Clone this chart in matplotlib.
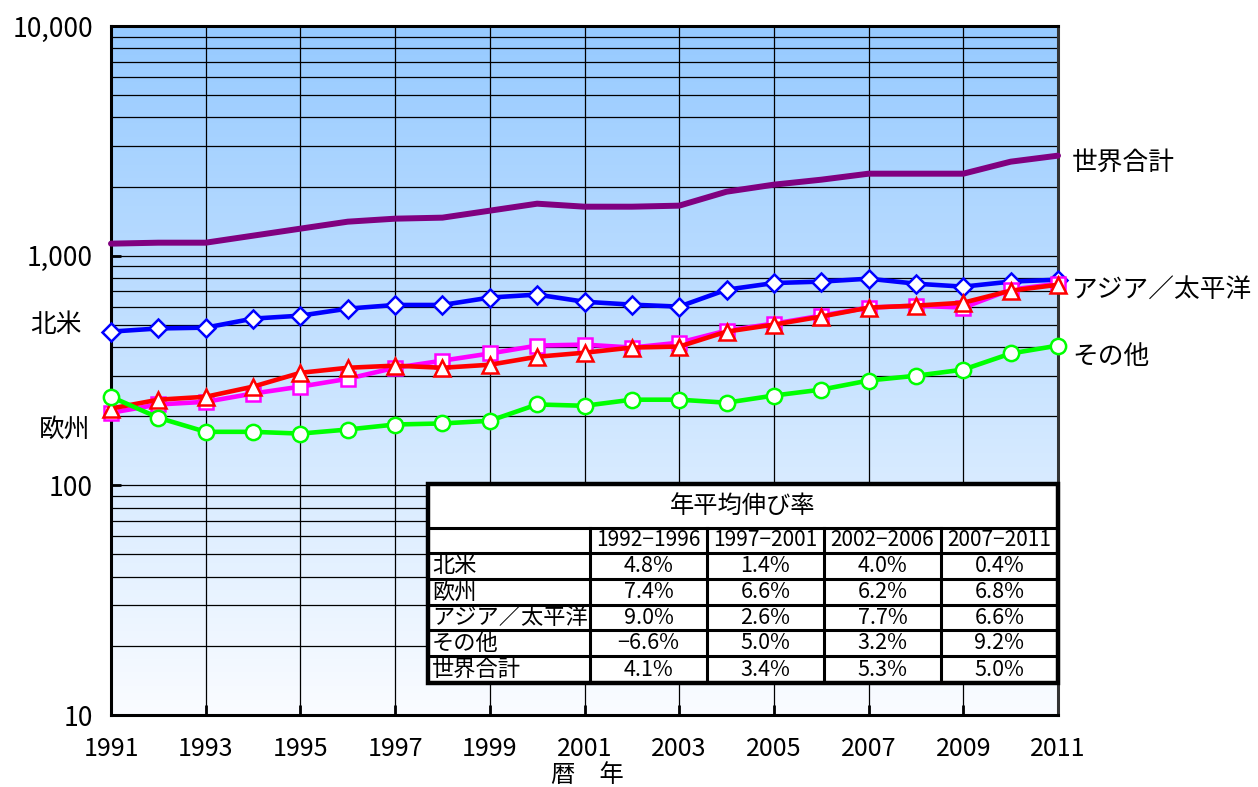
import numpy as np
import matplotlib
matplotlib.use('Agg')
import matplotlib.pyplot as plt
from matplotlib.ticker import LogLocator, NullFormatter
from matplotlib.patches import Rectangle

plt.rcParams['font.family'] = ['Noto Sans CJK JP', 'DejaVu Sans']

# ---------------- data ----------------
years = list(range(1991, 2012))
world = [1128, 1139, 1139, 1222, 1311, 1406, 1449, 1464, 1570, 1684, 1634,
         1634, 1651, 1899, 2038, 2142, 2275, 2275, 2275, 2566, 2726]
north_america = [467, 482, 486, 532, 548, 588, 610, 610, 657, 677, 630,
                 612, 600, 711, 760, 771, 794, 755, 733, 771, 786]
europe = [207, 225, 231, 251, 269, 291, 325, 349, 375, 406, 410,
          398, 418, 472, 506, 548, 594, 606, 594, 711, 755]
asia_pacific = [216, 236, 243, 269, 309, 325, 332, 325, 335, 363, 378,
                398, 402, 467, 501, 543, 594, 606, 624, 704, 747]
others = [243, 197, 171, 171, 168, 175, 184, 186, 191, 225, 222,
          236, 236, 229, 246, 261, 286, 300, 319, 375, 406]

y_ticks = [10, 100, 1000, 10000]
y_tick_labels = ['10', '100', '1,000', '10,000']
x_ticks = list(range(1991, 2012, 2))
x_label = '暦　年'

label_world = '世界合計'
label_asia = 'アジア／太平洋'
label_others = 'その他'
label_na = '北米'
label_eu = '欧州'

table_title = '年平均伸び率'
periods = ['1992−1996', '1997−2001', '2002−2006', '2007−2011']
regions = ['北米', '欧州', 'アジア／太平洋', 'その他', '世界合計']
growth_rates = [
    ['4.8%', '1.4%', '4.0%', '0.4%'],
    ['7.4%', '6.6%', '6.2%', '6.8%'],
    ['9.0%', '2.6%', '7.7%', '6.6%'],
    ['−6.6%', '5.0%', '3.2%', '9.2%'],
    ['4.1%', '3.4%', '5.3%', '5.0%'],
]

# ---------------- figure ----------------
W, H = 1258, 787
fig = plt.figure(figsize=(W / 100, H / 100), dpi=100)


def fx(x):
    return x / W


def fy(y):
    return 1 - y / H


ax = fig.add_axes([fx(111), fy(715), (1058 - 111) / W, (715 - 26) / H])
ax.set_yscale('log')
ax.set_xlim(1991, 2011)
ax.set_ylim(10, 10000)

# gradient background
g = np.linspace(0, 1, 256)[:, None, None]
top = np.array([150, 202, 255]) / 255
bot = np.array([250, 252, 255]) / 255
img = top * (1 - g) + bot * g
ax.imshow(img, extent=[0, 1, 0, 1], transform=ax.transAxes, aspect='auto',
          origin='upper', zorder=0.1, interpolation='bilinear')

ax.set_axisbelow(True)
ax.yaxis.set_major_locator(plt.FixedLocator(y_ticks))
ax.yaxis.set_minor_locator(LogLocator(base=10, subs=range(2, 10)))
ax.yaxis.set_minor_formatter(NullFormatter())
ax.set_yticklabels(y_tick_labels)
ax.set_xticks(x_ticks)
ax.set_xticklabels([str(x) for x in x_ticks])
ax.grid(which='both', axis='y', color='black', lw=0.9)
ax.grid(which='major', axis='x', color='black', lw=0.9)
ax.tick_params(axis='both', which='major', direction='in', length=7, width=2,
               color='black')
ax.tick_params(axis='y', which='major', pad=13, labelsize=19)
ax.tick_params(axis='x', which='major', pad=15, labelsize=18)
ax.tick_params(axis='both', which='minor', length=0)
for s in ax.spines.values():
    s.set_linewidth(2.2)
    s.set_color('black')
ax.spines['right'].set_color('#333333')

ax.plot(years, world, color='#800080', lw=4.3, zorder=3, clip_on=False,
        solid_capstyle='round')
ax.plot(years, north_america, color='#0000FF', lw=3.3, marker='D', ms=9,
        mfc='white', mec='#0000FF', mew=1.8, zorder=4, clip_on=False)
ax.plot(years, europe, color='#FF00FF', lw=3.3, marker='s', ms=10,
        mfc='white', mec='#FF00FF', mew=1.8, zorder=5, clip_on=False)
ax.plot(years, asia_pacific, color='#FF0000', lw=3.3, marker='^', ms=11,
        mfc='white', mec='#FF0000', mew=1.8, zorder=6, clip_on=False)
ax.plot(years, others, color='#00FF00', lw=3.3, marker='o', ms=11,
        mfc='white', mec='#00FF00', mew=1.8, zorder=7, clip_on=False)

# series labels
fig.text(fx(1072), fy(163), label_world, fontsize=18.5, va='center', ha='left')
fig.text(fx(1072), fy(290), label_asia, fontsize=18.5, va='center', ha='left')
fig.text(fx(1072), fy(357), label_others, fontsize=18.5, va='center', ha='left')
fig.text(fx(56), fy(325), label_na, fontsize=18.5, va='center', ha='center')
fig.text(fx(65), fy(430), label_eu, fontsize=18.5, va='center', ha='center')
fig.text(fx(587), fy(775), x_label, fontsize=17.5, va='center', ha='center')

# ---------------- table ----------------
col_x = [428, 590, 707, 824, 941, 1058]
row_y = [484, 528, 553, 579, 605, 630, 656, 683]
tab = fig.add_axes([fx(col_x[0]), fy(row_y[-1]), (col_x[-1] - col_x[0]) / W,
                    (row_y[-1] - row_y[0]) / H])
tab.set_xlim(col_x[0], col_x[-1])
tab.set_ylim(row_y[-1], row_y[0])
tab.axis('off')
tab.add_patch(Rectangle((col_x[0], row_y[0]), col_x[-1] - col_x[0],
                        row_y[-1] - row_y[0], facecolor='white',
                        edgecolor='none', zorder=1))
for yy in row_y[1:-1]:
    tab.plot([col_x[0], col_x[-1]], [yy, yy], color='black', lw=2.2, zorder=3)
for xx in col_x[1:-1]:
    tab.plot([xx, xx], [row_y[1], row_y[-1]], color='black', lw=2.2, zorder=3)
tab.add_patch(Rectangle((col_x[0], row_y[0]), col_x[-1] - col_x[0],
                        row_y[-1] - row_y[0], facecolor='none',
                        edgecolor='black', lw=3.2, zorder=4, clip_on=False))

tab.text((col_x[0] + col_x[-1]) / 2, (row_y[0] + row_y[1]) / 2, table_title,
         ha='center', va='center', fontsize=17.5)
for j, p in enumerate(periods):
    tab.text((col_x[j + 1] + col_x[j + 2]) / 2, (row_y[1] + row_y[2]) / 2, p,
             ha='center', va='center', fontsize=15)
for i, r in enumerate(regions):
    yc = (row_y[i + 2] + row_y[i + 3]) / 2
    tab.text(col_x[0] + 4, yc, r, ha='left', va='center', fontsize=16)
    for j, v in enumerate(growth_rates[i]):
        tab.text((col_x[j + 1] + col_x[j + 2]) / 2, yc, v, ha='center',
                 va='center', fontsize=15.5)

fig.savefig('out.png', dpi=100)
